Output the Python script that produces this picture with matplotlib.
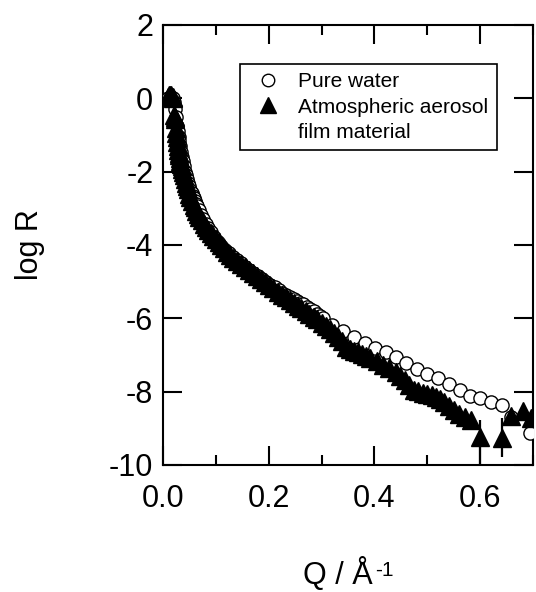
import numpy as np
import matplotlib
matplotlib.use("Agg")
import matplotlib.pyplot as plt
from matplotlib.lines import Line2D
from matplotlib.ticker import MultipleLocator

plt.rcParams['font.family'] = ['Liberation Sans', 'DejaVu Sans']

# pure water (open circles)
q_water = [0.010, 0.013, 0.016, 0.019, 0.021, 0.023, 0.025, 0.027, 0.028, 0.030,
           0.031, 0.033, 0.034, 0.036, 0.038, 0.040, 0.042, 0.044, 0.046, 0.048,
           0.050, 0.052, 0.054, 0.056, 0.058, 0.060, 0.063, 0.065, 0.068, 0.072,
           0.076, 0.081, 0.086, 0.091, 0.097, 0.104, 0.110, 0.117, 0.124, 0.132,
           0.140, 0.147, 0.155, 0.163, 0.171, 0.179, 0.187, 0.195, 0.203, 0.211,
           0.219, 0.226, 0.233, 0.240, 0.247, 0.253, 0.259, 0.265, 0.272, 0.278,
           0.285, 0.291, 0.297, 0.303, 0.320, 0.341, 0.362, 0.382, 0.401, 0.422,
           0.441, 0.459, 0.480, 0.500, 0.520, 0.542, 0.562, 0.581, 0.600, 0.620,
           0.641, 0.659, 0.694]
logr_water = [0.0, 0.02, 0.03, 0.01, -0.1, -0.3, -0.5, -0.75, -0.9, -1.05,
              -1.15, -1.3, -1.45, -1.6, -1.72, -1.85, -2.0, -2.1, -2.2, -2.3,
              -2.4, -2.5, -2.58, -2.65, -2.73, -2.8, -2.88, -2.94, -3.05, -3.18,
              -3.3, -3.42, -3.54, -3.65, -3.78, -3.92, -4.03, -4.14, -4.23, -4.32,
              -4.42, -4.50, -4.59, -4.68, -4.77, -4.85, -4.93, -5.0, -5.08, -5.15,
              -5.23, -5.30, -5.36, -5.41, -5.47, -5.52, -5.57, -5.62, -5.68, -5.74,
              -5.81, -5.87, -5.93, -6.0, -6.18, -6.34, -6.51, -6.66, -6.80, -6.93,
              -7.05, -7.23, -7.38, -7.51, -7.64, -7.78, -7.96, -8.13, -8.17, -8.27,
              -8.36, -8.68, -9.13]

# atmospheric aerosol film material (filled triangles)
q_film = [0.010, 0.012, 0.014, 0.016, 0.018, 0.019, 0.021, 0.022, 0.023, 0.024,
          0.025, 0.026, 0.027, 0.028, 0.029, 0.030, 0.031, 0.032, 0.033, 0.034,
          0.035, 0.036, 0.037, 0.039, 0.041, 0.043, 0.045, 0.047, 0.050, 0.052,
          0.055, 0.058, 0.060, 0.063, 0.066, 0.069, 0.073, 0.077, 0.081, 0.085,
          0.090, 0.095, 0.100, 0.105, 0.110, 0.116, 0.121, 0.127, 0.133, 0.140,
          0.147, 0.155, 0.162, 0.170, 0.177, 0.185, 0.193, 0.201, 0.209, 0.217,
          0.225, 0.232, 0.240, 0.247, 0.255, 0.262, 0.270, 0.277, 0.285, 0.292,
          0.300, 0.308, 0.316, 0.323, 0.331, 0.339, 0.347, 0.354, 0.362, 0.369,
          0.376, 0.384, 0.392, 0.404, 0.417, 0.428, 0.440, 0.449, 0.458, 0.466,
          0.474, 0.483, 0.492, 0.500, 0.508, 0.516, 0.524, 0.532, 0.541, 0.550,
          0.560, 0.571, 0.582, 0.600, 0.641, 0.659, 0.681, 0.697]
logr_film = [0.05, 0.08, 0.08, 0.08, 0.05, 0.02, -0.45, -0.5, -0.55, -0.8,
             -0.95, -1.05, -1.2, -1.3, -1.4, -1.48, -1.55, -1.62, -1.7, -1.78,
             -1.85, -1.92, -2.0, -2.1, -2.2, -2.3, -2.4, -2.48, -2.6, -2.68,
             -2.8, -2.9, -2.97, -3.06, -3.15, -3.24, -3.33, -3.42, -3.5, -3.58,
             -3.66, -3.75, -3.84, -3.92, -4.0, -4.09, -4.18, -4.27, -4.35, -4.44,
             -4.52, -4.60, -4.68, -4.77, -4.85, -4.93, -5.0, -5.09, -5.18, -5.27,
             -5.35, -5.43, -5.5, -5.58, -5.65, -5.73, -5.8, -5.88, -5.95, -6.03,
             -6.12, -6.21, -6.3, -6.4, -6.5, -6.62, -6.78, -6.83, -6.88, -6.92,
             -6.97, -7.03, -7.08, -7.17, -7.26, -7.36, -7.46, -7.57, -7.68, -7.82,
             -7.95, -7.99, -8.03, -8.06, -8.09, -8.14, -8.2, -8.29, -8.38, -8.49,
             -8.6, -8.69, -8.77, -9.24, -9.27, -8.66, -8.52, -8.72]

# error bars visible beyond the markers
q_err = [0.600, 0.641]
logr_err = [-9.24, -9.27]
err_low = [1.3, 0.50]
err_high = [0.47, 0.55]

fig = plt.figure(figsize=(5.36, 5.92), dpi=100)
ax = fig.add_axes([163 / 536, 1 - 465 / 592, 370 / 536, 440 / 592])

ax.plot(q_water, logr_water, 'o', ms=9.5, mfc='white', mec='black', mew=1.0,
        linestyle='none', zorder=3)
ax.errorbar(q_err, logr_err, yerr=[err_low, err_high], fmt='none',
            ecolor='black', elinewidth=1.6, capsize=0, zorder=4)
ax.plot(q_film, logr_film, '^', ms=12.5, color='black', linestyle='none', zorder=5)

ax.set_xlim(0, 0.7)
ax.set_ylim(-10, 2)
ax.xaxis.set_major_locator(MultipleLocator(0.2))
ax.xaxis.set_minor_locator(MultipleLocator(0.1))
ax.yaxis.set_major_locator(MultipleLocator(2))
ax.xaxis.set_major_formatter(plt.FuncFormatter(lambda v, p: f"{v:.1f}"))
ax.yaxis.set_major_formatter(plt.FuncFormatter(lambda v, p: f"{v:.0f}"))

ax.tick_params(which='both', direction='in', top=True, right=True, width=1.5)
ax.tick_params(which='major', length=14, labelsize=22)
ax.tick_params(which='minor', length=7)
ax.tick_params(axis='x', pad=14)
ax.tick_params(axis='y', pad=7)
for s in ax.spines.values():
    s.set_linewidth(1.5)

fig.text(30 / 536, 1 - 245 / 592, 'log R', rotation=90, ha='center', va='center',
         fontsize=22)
fig.text(373 / 536, 1 - 584 / 592, 'Q / Å', ha='right', va='baseline', fontsize=22)
fig.text(375 / 536, 1 - 576 / 592, '-1', ha='left', va='baseline', fontsize=15)

handles = [Line2D([], [], marker='o', ms=9, mfc='white', mec='black', mew=1.0, ls='none'),
           Line2D([], [], marker='^', ms=12, color='black', ls='none'),
           Line2D([], [], ls='none')]
labels = ['Pure water', 'Atmospheric aerosol', 'film material']
leg = ax.legend(handles, labels, loc='upper left', bbox_to_anchor=(0.208, 0.911),
                borderaxespad=0, fontsize=15, handletextpad=0.5, labelspacing=0.3,
                handlelength=1.9, fancybox=False, framealpha=1, edgecolor='black')
leg.get_frame().set_linewidth(1.2)

fig.savefig('out.png', dpi=100)
